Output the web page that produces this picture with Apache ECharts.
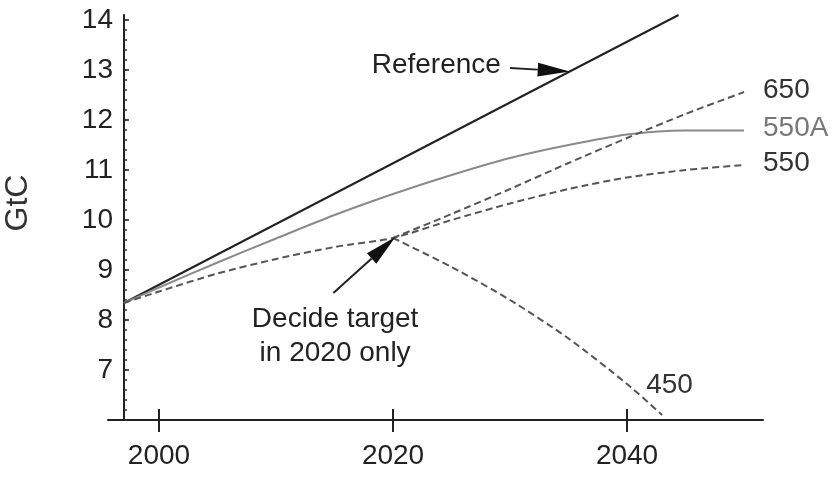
<!DOCTYPE html>
<html><head><meta charset="utf-8">
<script src="https://cdn.jsdelivr.net/npm/echarts@6/dist/echarts.min.js"></script>
<style>html,body{margin:0;padding:0;background:#fff}#c{width:837px;height:487px}</style>
</head><body><div id="c"></div>
<script>
// ---- data ----
const xTickYears = [2000, 2020, 2040];
const yTickValues = [7, 8, 9, 10, 11, 12, 13, 14];
const refYears = [1997, 2044.4];
const refValues = [8.34, 14.1];
const a550Years = [1997, 2000, 2005, 2010, 2015, 2020, 2025, 2030, 2035, 2040, 2045, 2050];
const a550Values = [8.34, 8.65, 9.15, 9.63, 10.1, 10.52, 10.9, 11.24, 11.5, 11.71, 11.79, 11.79];
const s550Years = [1997, 2000, 2005, 2010, 2015, 2020, 2025, 2030, 2035, 2040, 2045, 2050];
const s550Values = [8.34, 8.57, 8.93, 9.22, 9.46, 9.64, 10.0, 10.33, 10.62, 10.85, 11.0, 11.1];
const s650Years = [2020, 2025, 2030, 2035, 2040, 2045, 2050];
const s650Values = [9.64, 10.12, 10.62, 11.14, 11.64, 12.12, 12.56];
const s450Years = [2020, 2025, 2030, 2035, 2040, 2043];
const s450Values = [9.64, 9.06, 8.4, 7.63, 6.72, 6.1];
const seriesNames = ['Reference', '550A', '550', '650', '450'];
// annotation anchors (data coordinates)
const refArrowTail = [2030.0, 13.04], refArrowTip = [2035.1, 12.97];
const refTextAt = [2023.7, 13.1];
const decideArrowTail = [2014.9, 8.54], decideArrowTip = [2020.2, 9.66];
const decideTextAt = [2015.05, 7.68];

const pairs = (xs, ys) => xs.map((x, i) => [x, ys[i]]);
const FONT = 'Liberation Sans, Arial, sans-serif';
const minorTicks = [];
for (let v = 6; v <= 14.05; v += 0.2) minorTicks.push(+v.toFixed(1));

const X_MIN = 1995.64, X_MAX = 2051.62;
const dashStyle = { color: '#555', width: 2, type: [7, 4] };

const option = {
  animation: false,
  backgroundColor: '#fff',
  grid: { left: 108, right: 74, top: 15, bottom: 67 },
  xAxis: [
    {
      type: 'value', min: X_MIN, max: X_MAX,
      axisLine: { lineStyle: { color: '#222', width: 2 } },
      axisTick: { customValues: xTickYears, inside: true, length: 11, lineStyle: { color: '#222', width: 2 } },
      axisLabel: { customValues: xTickYears, fontSize: 28, color: '#222', margin: 22, fontFamily: FONT,
        formatter: (v) => String(Math.round(v)) },
      splitLine: { show: false }
    },
    {
      type: 'value', min: X_MIN, max: X_MAX, position: 'bottom',
      axisLine: { show: false },
      axisTick: { customValues: xTickYears, inside: false, length: 12, lineStyle: { color: '#222', width: 2 } },
      axisLabel: { show: false },
      splitLine: { show: false }
    }
  ],
  yAxis: [
    {
      type: 'value', min: 6, max: 14.1, offset: -16,
      axisLine: { show: true, onZero: false, lineStyle: { color: '#222', width: 2 } },
      axisTick: { customValues: yTickValues, inside: true, length: 5, lineStyle: { color: '#222', width: 1.5 } },
      axisLabel: { customValues: yTickValues, fontSize: 28, color: '#222', margin: 11, fontFamily: FONT },
      splitLine: { show: false }
    },
    {
      type: 'value', min: 6, max: 14.1, offset: -16, position: 'left',
      axisLine: { show: false },
      axisTick: { customValues: minorTicks, inside: true, length: 3, lineStyle: { color: '#333', width: 1.5 } },
      axisLabel: { show: false },
      splitLine: { show: false }
    }
  ],
  series: [
    { name: seriesNames[0], type: 'line', data: pairs(refYears, refValues), symbol: 'none',
      lineStyle: { color: '#222', width: 2 } },
    { name: seriesNames[1], type: 'line', data: pairs(a550Years, a550Values), symbol: 'none', smooth: 0.25,
      lineStyle: { color: '#8a8a8a', width: 2 } },
    { name: seriesNames[2], type: 'line', data: pairs(s550Years, s550Values), symbol: 'none', smooth: 0.25,
      lineStyle: dashStyle },
    { name: seriesNames[3], type: 'line', data: pairs(s650Years, s650Values), symbol: 'none', smooth: 0.25,
      lineStyle: dashStyle },
    { name: seriesNames[4], type: 'line', data: pairs(s450Years, s450Values), symbol: 'none', smooth: 0.25,
      lineStyle: dashStyle }
  ]
};

const chart = echarts.init(document.getElementById('c'));
chart.setOption(option);

const px = (p) => chart.convertToPixel({ xAxisIndex: 0, yAxisIndex: 0 }, p);
function arrow(tailD, tipD, L, W) {
  const t = px(tailD), h = px(tipD);
  const dx = h[0] - t[0], dy = h[1] - t[1];
  const len = Math.hypot(dx, dy), ux = dx / len, uy = dy / len;
  const bx = h[0] - ux * L, by = h[1] - uy * L;
  return [
    { type: 'line', shape: { x1: t[0], y1: t[1], x2: bx, y2: by }, style: { stroke: '#222', lineWidth: 2 }, z: 10 },
    { type: 'polygon', shape: { points: [[h[0], h[1]], [bx - uy * W, by + ux * W], [bx + uy * W, by - ux * W]] },
      style: { fill: '#111' }, z: 10 }
  ];
}
function label(dataPt, dxy, text, color, align) {
  const p = px(dataPt);
  return { type: 'text', x: p[0] + dxy[0], y: p[1] + dxy[1], z: 10,
    style: { text, fill: color, font: '28px ' + FONT, align: align || 'left', verticalAlign: 'middle' } };
}
const refTxt = px(refTextAt), decTxt = px(decideTextAt);
const graphics = [
  { type: 'text', x: 18, y: 203, rotation: Math.PI / 2,
    style: { text: 'GtC', fill: '#333', font: '32px ' + FONT, align: 'center', verticalAlign: 'middle' } },
  { type: 'text', x: refTxt[0], y: refTxt[1],
    style: { text: 'Reference', fill: '#222', font: '28px ' + FONT, align: 'center', verticalAlign: 'middle' } },
  { type: 'text', x: decTxt[0], y: decTxt[1],
    style: { text: 'Decide target\nin 2020 only', fill: '#222', font: '28px ' + FONT, lineHeight: 34, align: 'center', verticalAlign: 'middle' } },
  ...arrow(refArrowTail, refArrowTip, 32, 7),
  ...arrow(decideArrowTail, decideArrowTip, 32, 7),
  label([s650Years[s650Years.length - 1], s650Values[s650Values.length - 1]], [19, -2], '650', '#333'),
  label([a550Years[a550Years.length - 1], a550Values[a550Values.length - 1]], [19, -2], '550A', '#777'),
  label([s550Years[s550Years.length - 1], s550Values[s550Values.length - 1]], [19, -2], '550', '#333'),
  label([s450Years[s450Years.length - 1], s450Values[s450Values.length - 1]], [-16, -30], '450', '#333')
];
chart.setOption({ graphic: graphics });
</script></body></html>
